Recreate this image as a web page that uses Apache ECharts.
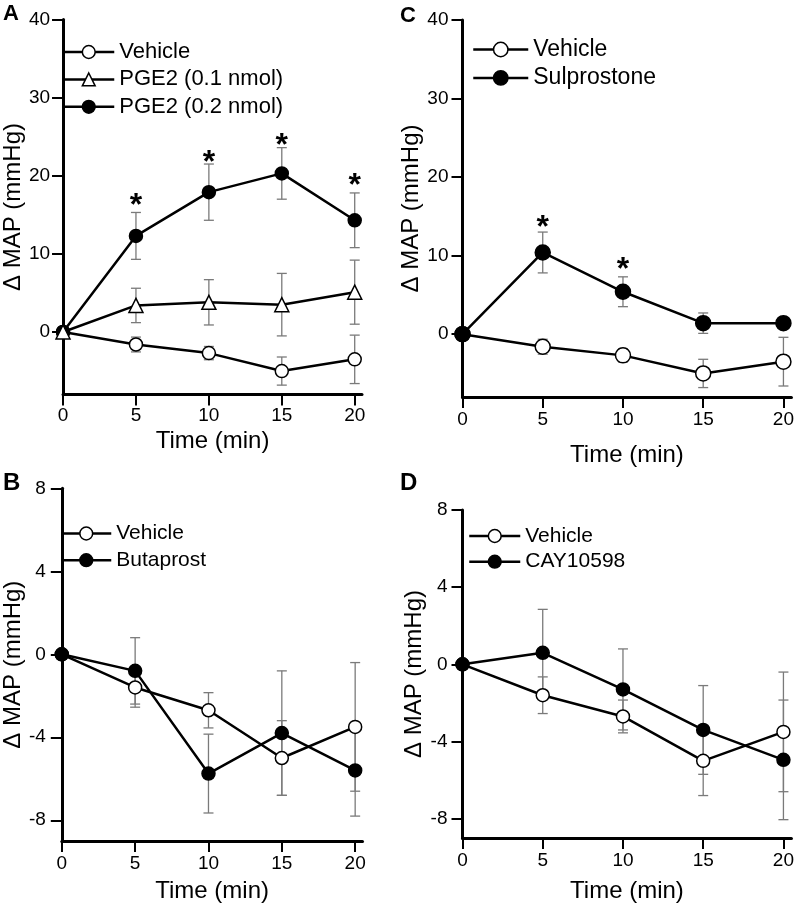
<!DOCTYPE html>
<html><head><meta charset="utf-8">
<script src="https://cdn.jsdelivr.net/npm/echarts@6/dist/echarts.min.js"></script>
<style>html,body{margin:0;padding:0;background:#fff}#c{width:797px;height:904px}</style>
</head><body><div id="c"></div>
<script>
// ---------- data ----------
const times = [0, 5, 10, 15, 20];
const timeTicks = [0, 5, 10, 15, 20];
const yTicksTop = [0, 10, 20, 30, 40];
const yTicksBottom = [-8, -4, 0, 4, 8];

const vehicleMean = [0, -1.6, -2.7, -5.0, -3.5];
const vehicleSem  = [0, 0.95, 0.85, 1.8, 3.1];

const pge2LowMean = [0, 3.4, 3.8, 3.5, 5.1];
const pge2LowSem  = [0, 2.2, 2.9, 4.0, 4.1];

const pge2HighMean = [0, 12.3, 17.9, 20.3, 14.3];
const pge2HighSem  = [0, 3.0, 3.6, 3.3, 3.5];

const butaprostMean = [0, -0.8, -5.75, -3.8, -5.6];
const butaprostSem  = [0, 1.6, 1.9, 3.0, 2.2];

const sulprostoneMean = [0, 10.4, 5.4, 1.4, 1.4];
const sulprostoneSem  = [0, 2.6, 1.9, 1.3, 0.6];

const cayMean = [0, 0.6, -1.3, -3.4, -4.95];
const caySem  = [0, 2.25, 2.1, 2.3, 3.1];

// significance asterisks (time, y position in mmHg)
const starsATime = [5, 10, 15, 20];
const starsAY    = [17.0, 22.5, 24.7, 19.6];
const starsCTime = [5, 10];
const starsCY    = [14.4, 9.1];

// ---------- chart ----------
const FONT = '"Liberation Sans", Arial, Helvetica, sans-serif';
const chart = echarts.init(document.getElementById('c'), null, {renderer: 'canvas'});

const grids = [
  {left: 60,    top: 19.5,  width: 302, height: 375},   // A
  {left: 58.5,  top: 488.3, width: 304, height: 352.7}, // B
  {left: 462.5, top: 20,    width: 329, height: 377},   // C
  {left: 462.5, top: 510,   width: 329, height: 329.3}  // D
];

function xAxisCfg(gi, labelMargin, nameGap) {
  return {
    type: 'value', gridIndex: gi, min: 0, max: 20.5,
    name: 'Time (min)', nameLocation: 'middle', nameGap: nameGap,
    nameTextStyle: {fontFamily: FONT, fontSize: 24, color: '#000'},
    axisLine: {onZero: false, lineStyle: {color: '#000', width: 3}},
    axisTick: {customValues: timeTicks, length: 11, lineStyle: {color: '#000', width: 2}},
    axisLabel: {customValues: timeTicks, margin: labelMargin, fontFamily: FONT, fontSize: 19, color: '#000'},
    splitLine: {show: false}
  };
}
function yAxisCfg(gi, min, max, ticks, labelMargin, nameGap) {
  return {
    type: 'value', gridIndex: gi, min: min, max: max,
    name: '\u0394 MAP (mmHg)', nameLocation: 'middle', nameGap: nameGap, nameRotate: 90,
    nameTextStyle: {fontFamily: FONT, fontSize: 24, color: '#000'},
    axisLine: {onZero: false, lineStyle: {color: '#000', width: 3}},
    axisTick: {customValues: ticks, length: 11, lineStyle: {color: '#000', width: 2}},
    axisLabel: {customValues: ticks, margin: labelMargin, fontFamily: FONT, fontSize: 19, color: '#000'},
    splitLine: {show: false}
  };
}

function lineSeries(gi, name, mean, symbol, filled, size) {
  return {
    type: 'line', name: name, xAxisIndex: gi, yAxisIndex: gi, z: 3,
    data: times.map((t, i) => [t, mean[i]]),
    symbol: symbol, symbolSize: size, showAllSymbol: true,
    lineStyle: {color: '#000', width: 2.5},
    itemStyle: {color: filled ? '#000' : '#fff', borderColor: '#000', borderWidth: 1.5, opacity: 1},
    emphasis: {disabled: true}, animation: false, silent: true
  };
}

function errSeries(gi, mean, sem) {
  return {
    type: 'custom', xAxisIndex: gi, yAxisIndex: gi, z: 2, silent: true, animation: false,
    data: times.map((t, i) => [t, mean[i], sem[i]]),
    renderItem: function (params, api) {
      const x = api.value(0), m = api.value(1), s = api.value(2);
      if (!s) return {type: 'group', children: []};
      const top = api.coord([x, m + s]), bot = api.coord([x, m - s]);
      const hw = 5;
      const st = {stroke: '#7a7a7a', lineWidth: 1.3};
      return {type: 'group', children: [
        {type: 'line', shape: {x1: top[0], y1: top[1], x2: bot[0], y2: bot[1]}, style: st},
        {type: 'line', shape: {x1: top[0] - hw, y1: top[1], x2: top[0] + hw, y2: top[1]}, style: st},
        {type: 'line', shape: {x1: bot[0] - hw, y1: bot[1], x2: bot[0] + hw, y2: bot[1]}, style: st}
      ]};
    }
  };
}

function starSeries(gi, tArr, yArr, fs) {
  return {
    type: 'custom', xAxisIndex: gi, yAxisIndex: gi, z: 4, silent: true, animation: false,
    data: tArr.map((t, i) => [t, yArr[i]]),
    renderItem: function (params, api) {
      const c = api.coord([api.value(0), api.value(1)]);
      return {type: 'text', x: c[0], y: c[1] + fs * 0.22,
        style: {text: '*', fontSize: fs, fontWeight: 'bold', fontFamily: FONT, fill: '#000',
                align: 'center', verticalAlign: 'middle'}};
    }
  };
}

function legendCfg(names, left, top, itemWidth, itemHeight, gap, fs) {
  return {
    data: names, orient: 'vertical', left: left, top: top,
    itemWidth: itemWidth, itemHeight: itemHeight, itemGap: gap,
    selectedMode: false, padding: 0,
    textStyle: {fontFamily: FONT, fontSize: fs, color: '#000'},
    lineStyle: {width: 2.5}, itemStyle: {borderWidth: 1.5}
  };
}

const option = {
  animation: false,
  backgroundColor: '#fff',
  grid: grids,
  xAxis: [xAxisCfg(0, 12, 35), xAxisCfg(1, 13, 38), xAxisCfg(2, 13, 46), xAxisCfg(3, 13, 41)],
  yAxis: [
    yAxisCfg(0, -8, 40, yTicksTop, 13, 31),
    yAxisCfg(1, -9, 8, yTicksBottom, 16, 30),
    yAxisCfg(2, -8, 40, yTicksTop, 14, 35),
    yAxisCfg(3, -9, 8, yTicksBottom, 15, 29)
  ],
  legend: [
    legendCfg(['Vehicle', 'PGE2 (0.1 nmol)', 'PGE2 (0.2 nmol)'], 62, 41, 51, 16, 5.4, 22),
    legendCfg(['Vehicle', 'Butaprost'], 60, 523, 50, 16, 5.7, 21),
    legendCfg(['Vehicle', 'Sulprostone'], 472, 38, 55, 18, 5.4, 23),
    legendCfg(['Vehicle', 'CAY10598'], 468, 525.5, 51, 16, 4.7, 21)
  ],
  graphic: [
    {type: 'text', left: 3, top: 3, style: {text: 'A', fontFamily: FONT, fontWeight: 'bold', fontSize: 22, fill: '#000'}},
    {type: 'text', left: 3, top: 471, style: {text: 'B', fontFamily: FONT, fontWeight: 'bold', fontSize: 24, fill: '#000'}},
    {type: 'text', left: 400, top: 5, style: {text: 'C', fontFamily: FONT, fontWeight: 'bold', fontSize: 22, fill: '#000'}},
    {type: 'text', left: 400, top: 471, style: {text: 'D', fontFamily: FONT, fontWeight: 'bold', fontSize: 24, fill: '#000'}}
  ],
  series: [
    // A
    errSeries(0, vehicleMean, vehicleSem),
    errSeries(0, pge2HighMean, pge2HighSem),
    errSeries(0, pge2LowMean, pge2LowSem),
    lineSeries(0, 'Vehicle', vehicleMean, 'circle', false, 13),
    lineSeries(0, 'PGE2 (0.2 nmol)', pge2HighMean, 'circle', true, 13),
    lineSeries(0, 'PGE2 (0.1 nmol)', pge2LowMean, 'triangle', false, 14),
    starSeries(0, starsATime, starsAY, 32),
    // B
    errSeries(1, vehicleMean, vehicleSem),
    errSeries(1, butaprostMean, butaprostSem),
    lineSeries(1, 'Vehicle', vehicleMean, 'circle', false, 13),
    lineSeries(1, 'Butaprost', butaprostMean, 'circle', true, 13),
    // C
    errSeries(2, vehicleMean, vehicleSem),
    errSeries(2, sulprostoneMean, sulprostoneSem),
    lineSeries(2, 'Vehicle', vehicleMean, 'circle', false, 15),
    lineSeries(2, 'Sulprostone', sulprostoneMean, 'circle', true, 15),
    starSeries(2, starsCTime, starsCY, 32),
    // D
    errSeries(3, vehicleMean, vehicleSem),
    errSeries(3, cayMean, caySem),
    lineSeries(3, 'Vehicle', vehicleMean, 'circle', false, 13),
    lineSeries(3, 'CAY10598', cayMean, 'circle', true, 13)
  ]
};
chart.setOption(option);
</script>
</body></html>
